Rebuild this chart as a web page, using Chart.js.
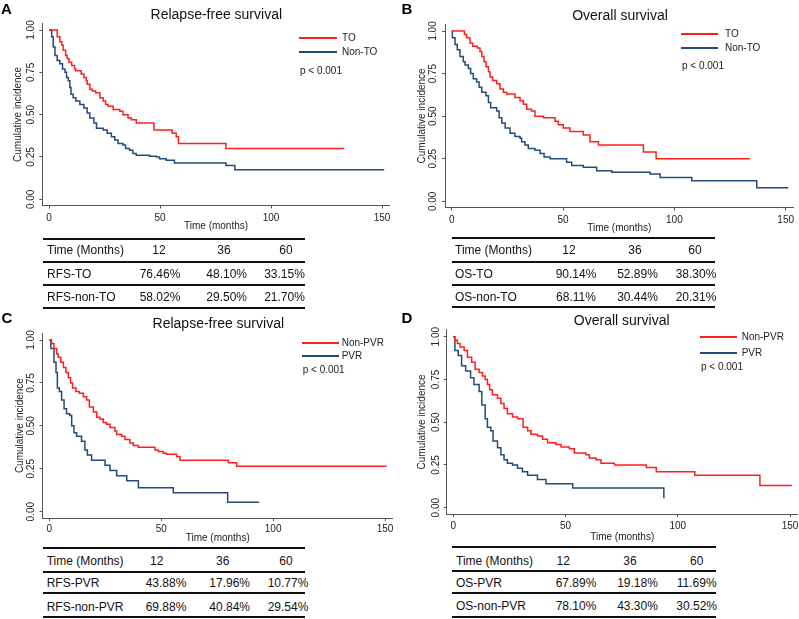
<!DOCTYPE html>
<html><head><meta charset="utf-8">
<script src="https://cdn.jsdelivr.net/npm/chart.js@4.4.0/dist/chart.umd.min.js"></script>
<style>
html,body{margin:0;padding:0;background:#fff;}
body{width:799px;height:619px;position:relative;overflow:hidden;font-family:"Liberation Sans",Arial,sans-serif;color:#111;}
canvas{position:absolute;}
.t{position:absolute;white-space:nowrap;}
.hl{position:absolute;}
</style></head><body>
<canvas id="cA"></canvas><canvas id="cB"></canvas><canvas id="cC"></canvas><canvas id="cD"></canvas>
<div id="overlay"></div>
<script>
// ---------- tick values ----------
const xTicks = [0, 50, 100, 150];
const yTicks = [0, 0.25, 0.5, 0.75, 1];
const yTickLabels = ['0.00', '0.25', '0.50', '0.75', '1.00'];

// ---------- Panel A: Relapse-free survival, TO vs Non-TO ----------
const rfsTOTime = [0,3.7,4.9,5.8,6.4,7.5,8.2,9.0,10.2,11.5,12.1,14.5,15.7,16.8,17.2,18.4,19.5,21.0,22.9,24.4,25.5,26.6,28.9,31.9,33.3,35.6,37.1,39.3,47.3,55.5,57.3,58.3,79.7,133];
const rfsTOSurv = [1,0.96,0.93,0.91,0.88,0.85,0.83,0.81,0.79,0.77,0.76,0.74,0.72,0.70,0.68,0.65,0.64,0.63,0.60,0.58,0.56,0.55,0.53,0.52,0.50,0.48,0.47,0.45,0.41,0.39,0.37,0.33,0.30,0.30];
const rfsNonTOTime = [0,1.2,1.9,2.7,3.7,4.9,6.1,7.2,7.9,8.7,9.4,9.9,10.9,12.1,13.9,15.7,17.2,18.4,20.2,21.4,24.4,26.2,28.1,29.6,31.1,33.3,34.5,36.3,37.8,39.3,45.3,48.3,49.8,52.8,56.5,79.7,83.7,151];
const rfsNonTOSurv = [1,0.96,0.90,0.85,0.82,0.80,0.77,0.75,0.72,0.70,0.66,0.62,0.60,0.58,0.56,0.54,0.51,0.48,0.45,0.42,0.41,0.39,0.37,0.35,0.33,0.32,0.30,0.29,0.27,0.26,0.255,0.25,0.24,0.23,0.215,0.20,0.175,0.175];

// ---------- Panel B: Overall survival, TO vs Non-TO ----------
const osTOTime = [0,5.7,6.7,8.2,9.4,11.5,12.7,13.5,14.5,15.4,16.5,17.2,18.4,20.2,21.7,23.2,24.7,28.4,30.7,32.2,33.7,35.9,37.4,41.2,46.4,47.9,50.1,53.1,59.1,62.1,65.9,86.1,91.8,134];
const osTOSurv = [1,0.98,0.96,0.93,0.91,0.90,0.88,0.85,0.82,0.79,0.76,0.73,0.71,0.69,0.66,0.64,0.63,0.61,0.59,0.57,0.54,0.53,0.50,0.49,0.47,0.45,0.43,0.41,0.39,0.35,0.33,0.29,0.25,0.25];
const osNonTOTime = [0,0.3,1.5,2.5,3.7,5.2,6.0,7.5,8.5,9.7,11.2,12.3,13.5,15.4,16.5,17.5,20.2,21.3,22.5,24.0,26.2,28.4,30.7,31.4,32.9,34.4,37.4,39.7,41.5,44.2,51.6,53.9,59.1,65.1,71.9,89.1,93.6,107.8,137,151.2];
const osNonTOSurv = [1,0.96,0.92,0.89,0.85,0.82,0.80,0.78,0.75,0.72,0.70,0.67,0.64,0.62,0.58,0.55,0.53,0.49,0.46,0.43,0.40,0.38,0.37,0.35,0.33,0.31,0.30,0.28,0.26,0.25,0.23,0.21,0.20,0.18,0.17,0.16,0.14,0.12,0.08,0.08];

// ---------- Panel C: Relapse-free survival, Non-PVR vs PVR ----------
const rfsNonPVRTime = [0,1.0,2.1,3.3,4.0,5.1,6.3,7.4,8.5,9.5,10.4,11.9,13.4,15.2,16.7,17.9,19.7,21.2,22.6,24.1,25.6,27.1,29.3,30.1,32.3,33.8,36.0,37.5,39.8,47.2,48.7,50.9,52.4,56.9,58.4,80.0,83.7,150.7];
const rfsNonPVRSurv = [1,0.98,0.95,0.92,0.90,0.87,0.84,0.81,0.78,0.75,0.72,0.70,0.69,0.67,0.65,0.61,0.58,0.55,0.54,0.52,0.51,0.49,0.47,0.45,0.44,0.42,0.40,0.385,0.375,0.36,0.35,0.34,0.335,0.32,0.30,0.285,0.265,0.265];
const rfsPVRTime = [0,0.7,2.1,3.0,3.6,4.5,5.5,6.6,7.7,9.2,10.0,11.0,12.2,14.4,15.9,17.0,18.9,24.9,27.1,30.1,34.6,39.8,55.4,79.7,93.8];
const rfsPVRSurv = [1,0.95,0.87,0.81,0.72,0.70,0.65,0.60,0.57,0.56,0.50,0.46,0.44,0.41,0.36,0.33,0.30,0.27,0.24,0.21,0.18,0.14,0.11,0.055,0.055];

// ---------- Panel D: Overall survival, Non-PVR vs PVR ----------
const osNonPVRTime = [0,0.6,1.8,3.0,4.8,6.3,8.2,9.7,11.5,13.0,14.2,15.2,16.2,17.4,19.7,21.2,22.6,24.1,26.4,28.6,31.1,33.1,34.6,37.5,39.8,42.0,45.7,48.0,51.7,53.9,59.1,60.6,63.6,65.8,71.8,86.0,90.4,107.6,136.6,150.8];
const osNonPVRSurv = [1,0.98,0.96,0.94,0.92,0.88,0.85,0.81,0.79,0.77,0.75,0.72,0.69,0.66,0.64,0.61,0.58,0.55,0.53,0.52,0.47,0.45,0.43,0.42,0.40,0.38,0.37,0.355,0.345,0.32,0.31,0.29,0.28,0.26,0.25,0.235,0.21,0.19,0.13,0.13];
const osPVRTime = [0,0.7,2.2,3.7,5.5,7.7,9.2,11.5,12.7,14.2,15.2,16.7,17.7,19.7,21.2,22.6,24.1,26.4,28.6,30.8,33.1,37.5,41.3,53.2,93.8];
const osPVRSurv = [1,0.92,0.89,0.83,0.80,0.76,0.72,0.68,0.60,0.52,0.47,0.45,0.39,0.35,0.31,0.28,0.26,0.25,0.23,0.21,0.19,0.165,0.14,0.115,0.055];

// ---------- Tables ----------
const tableHeader = ['Time (Months)', '12', '36', '60'];
const tableARows = [['RFS-TO','76.46%','48.10%','33.15%'],['RFS-non-TO','58.02%','29.50%','21.70%']];
const tableBRows = [['OS-TO','90.14%','52.89%','38.30%'],['OS-non-TO','68.11%','30.44%','20.31%']];
const tableCRows = [['RFS-PVR','43.88%','17.96%','10.77%'],['RFS-non-PVR','69.88%','40.84%','29.54%']];
const tableDRows = [['OS-PVR','67.89%','19.18%','11.69%'],['OS-non-PVR','78.10%','43.30%','30.52%']];

// ---------- styling ----------
const FONT = '"Liberation Sans", Arial, sans-serif';
const RED = '#ff1e1e';
const NAVY = '#234b77';
const AXIS = '#555';
const X_MIN = -3, X_MAX = 153.5, Y_MIN = -0.037, Y_MAX = 1.04;
Chart.defaults.font.family = FONT;

function areaFrom(g) {
  const kx = (g.x150 - g.x0) / 150, ky = (g.y0 - g.y1);
  return {L: g.x0 + X_MIN * kx, R: g.x0 + X_MAX * kx, T: g.y1 - (Y_MAX - 1) * ky, B: g.y0 - Y_MIN * ky};
}

function makePanel(p) {
  const cv = document.getElementById(p.id);
  cv.width = p.w; cv.height = p.h;
  cv.style.left = p.x + 'px'; cv.style.top = p.y + 'px';
  cv.style.width = p.w + 'px'; cv.style.height = p.h + 'px';
  const a = areaFrom(p.g);
  new Chart(cv, {
    type: 'line',
    data: {
      datasets: p.series.map(s => ({
        label: s.label,
        data: s.time.map((t, i) => ({x: t, y: s.surv[i]})),
        borderColor: s.color, backgroundColor: s.color,
        borderWidth: 1.5, stepped: true, pointRadius: 0, fill: false
      }))
    },
    options: {
      responsive: false, animation: false, devicePixelRatio: 1,
      layout: {padding: {left: 0, top: a.T - p.y, right: p.x + p.w - a.R, bottom: 0}},
      plugins: {legend: {display: false}, tooltip: {enabled: false}, title: {display: false}},
      scales: {
        x: {
          type: 'linear', min: X_MIN, max: X_MAX,
          afterBuildTicks: s => { s.ticks = xTicks.map(v => ({value: v})); },
          afterFit: s => { s.height = p.y + p.h - a.B; },
          grid: {display: true, drawOnChartArea: false, drawTicks: true, tickLength: 3, color: AXIS, lineWidth: 1},
          border: {display: true, color: AXIS, width: 1},
          ticks: {font: {size: 10}, color: '#222', padding: p.xPad, maxRotation: 0, autoSkip: false},
          title: {display: true, text: 'Time (months)', font: {size: 10}, color: '#222', padding: {top: 0, bottom: p.xtPad}}
        },
        y: {
          type: 'linear', min: Y_MIN, max: Y_MAX,
          afterBuildTicks: s => { s.ticks = yTicks.map(v => ({value: v})); },
          afterFit: s => { s.width = a.L - p.x; },
          grid: {display: true, drawOnChartArea: false, drawTicks: true, tickLength: 3, color: AXIS, lineWidth: 1},
          border: {display: true, color: AXIS, width: 1},
          ticks: {font: {size: 10}, color: '#222', padding: p.yPad, minRotation: 90, maxRotation: 90, crossAlign: 'center',
                  callback: (v, i) => yTickLabels[i]},
          title: {display: true, text: 'Cumulative incidence', font: {size: 10}, color: '#222', padding: {top: p.ytPad, bottom: 0}}
        }
      }
    }
  });
}

const panels = [
  {id: 'cA', x: 0, y: 0, w: 400, h: 236, g: {x0: 49, x150: 382, y1: 30, y0: 199.3}, xPad: 3.5, xtPad: 4, yPad: -2, ytPad: 12,
   series: [{label: 'TO', time: rfsTOTime, surv: rfsTOSurv, color: RED}, {label: 'Non-TO', time: rfsNonTOTime, surv: rfsNonTOSurv, color: NAVY}]},
  {id: 'cB', x: 400, y: 0, w: 410, h: 236, g: {x0: 451.7, x150: 785.7, y1: 31, y0: 201.3}, xPad: 3.8, xtPad: 1.5, yPad: -1, ytPad: 16,
   series: [{label: 'TO', time: osTOTime, surv: osTOSurv, color: RED}, {label: 'Non-TO', time: osNonTOTime, surv: osNonTOSurv, color: NAVY}]},
  {id: 'cC', x: 0, y: 305, w: 400, h: 240, g: {x0: 49.3, x150: 385, y1: 340, y0: 511.7}, xPad: 2.5, xtPad: 1, yPad: -1.8, ytPad: 14,
   series: [{label: 'Non-PVR', time: rfsNonPVRTime, surv: rfsNonPVRSurv, color: RED}, {label: 'PVR', time: rfsPVRTime, surv: rfsPVRSurv, color: NAVY}]},
  {id: 'cD', x: 400, y: 305, w: 410, h: 240, g: {x0: 453.3, x150: 790, y1: 336.7, y0: 507.7}, xPad: 3.5, xtPad: 1.5, yPad: -2.8, ytPad: 16.5,
   series: [{label: 'Non-PVR', time: osNonPVRTime, surv: osNonPVRSurv, color: RED}, {label: 'PVR', time: osPVRTime, surv: osPVRSurv, color: NAVY}]}
];
panels.forEach(makePanel);

// ---------- HTML text overlays ----------
const ov = document.getElementById('overlay');
function txt(s, x, yc, size, opt) {
  opt = opt || {};
  const d = document.createElement('div');
  d.className = 't';
  d.textContent = s;
  d.style.fontSize = size + 'px';
  d.style.lineHeight = size + 'px';
  d.style.top = (yc - size / 2) + 'px';
  d.style.left = x + 'px';
  if (opt.center) d.style.transform = 'translateX(-50%)';
  if (opt.bold) d.style.fontWeight = 'bold';
  d.style.color = opt.color || '#111';
  ov.appendChild(d);
}
function hline(x1, x2, y, th, color) {
  const d = document.createElement('div');
  d.className = 'hl';
  d.style.left = Math.round(x1) + 'px'; d.style.width = Math.round(x2 - x1) + 'px';
  d.style.top = Math.round(y - th / 2) + 'px'; d.style.height = th + 'px';
  d.style.background = color;
  ov.appendChild(d);
}

// panel letters and titles
txt('A', 1, 8, 15, {bold: true, color: '#000'});
txt('B', 401.5, 8.5, 15, {bold: true, color: '#000'});
txt('C', 1.5, 317.5, 15, {bold: true, color: '#000'});
txt('D', 401.5, 317.5, 15, {bold: true, color: '#000'});
txt('Relapse-free survival', 216.3, 14, 14, {center: true});
txt('Overall survival', 620, 15, 14, {center: true});
txt('Relapse-free survival', 218.3, 323.3, 14, {center: true});
txt('Overall survival', 621.7, 320, 14, {center: true});

// legends
function legend(lx1, lx2, tx, y1, y2, py, labels) {
  hline(lx1, lx2, y1, 2, RED);
  hline(lx1, lx2, y2, 2, NAVY);
  txt(labels[0], tx, y1, 10, {color: '#222'});
  txt(labels[1], tx, y2, 10, {color: '#222'});
  txt('p < 0.001', lx1 + 1, py, 10, {color: '#222'});
}
legend(299, 337, 342, 38.3, 51.7, 70.5, panels[0].series.map(s => s.label));
legend(681, 718.3, 725, 34, 48.3, 65.7, panels[1].series.map(s => s.label));
legend(301.7, 338.3, 341.7, 342.7, 356, 370, panels[2].series.map(s => s.label));
legend(700, 736.7, 741.7, 337.3, 352.7, 367.3, panels[3].series.map(s => s.label));

// tables
function table(rows, x1, x2, lines, rowY, labelX, headX, valX) {
  lines.forEach(y => hline(x1, x2, y, 2, '#111'));
  txt(tableHeader[0], labelX, rowY[0], 12);
  for (let c = 1; c < 4; c++) txt(tableHeader[c], headX[c - 1], rowY[0], 12, {center: true});
  rows.forEach((r, i) => {
    txt(r[0], labelX, rowY[i + 1], 12);
    for (let c = 1; c < 4; c++) txt(r[c], valX[c - 1], rowY[i + 1], 12, {center: true});
  });
}
table(tableARows, 43, 305, [239.3, 261.7, 285, 307.7], [250, 274, 296.7], 47, [159, 224, 286], [160, 226.7, 284.5]);
table(tableBRows, 452, 715, [238.3, 261.7, 285, 306.7], [250, 274, 296.7], 455, [569, 635, 695], [576, 637.5, 696]);
table(tableCRows, 42.7, 305, [548.3, 571.7, 593.3, 617.3], [560.7, 582.7, 606.7], 46.7, [156.7, 222.7, 286], [166, 229.7, 288]);
table(tableDRows, 451.7, 716, [546.7, 570.7, 592.7, 617.3], [560.7, 582.7, 606], 456, [563.3, 630, 696.7], [576, 637.5, 696.7]);
</script>
</body></html>
